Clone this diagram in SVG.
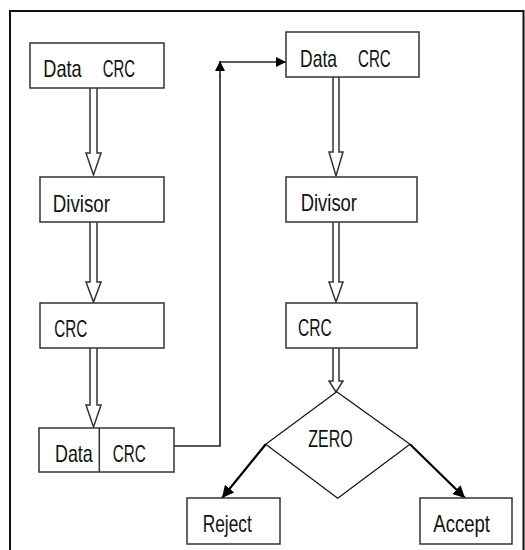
<svg xmlns="http://www.w3.org/2000/svg" width="525" height="550" viewBox="0 0 525 550">
  <style>
    .frame { fill: none; stroke: #111; stroke-width: 2; }
    .box { fill: #fff; stroke: #333; stroke-width: 1.5; }
    .div { fill: none; stroke: #333; stroke-width: 1.5; }
    .diamond { fill: #fff; stroke: #111; stroke-width: 1.2; }
    .label { font-family: "Liberation Sans", Arial, sans-serif; font-size: 24px; fill: #111; }
    .hollow { fill: #fff; stroke: #333; stroke-width: 1.5; stroke-linejoin: miter; }
    .link { fill: none; stroke: #222; stroke-width: 1.6; }
    .branch { fill: none; stroke: #000; stroke-width: 2.2; }
  </style>
  <defs>
    <marker id="tri" viewBox="0 0 10 10" refX="10" refY="5" markerWidth="10" markerHeight="10" markerUnits="userSpaceOnUse" orient="auto">
      <path d="M0,0 L10,5 L0,10 z" fill="#000"/>
    </marker>
    <marker id="triB" viewBox="0 0 10 10" refX="10" refY="5" markerWidth="12" markerHeight="12" markerUnits="userSpaceOnUse" orient="auto">
      <path d="M0,0 L10,5 L0,10 z" fill="#000"/>
    </marker>
  </defs>

  <!-- page frame -->
  <path class="frame" d="M10,550 V11 H523.5 V550"/>

  <!-- connectors -->
  <g id="connectors">
    <!-- hollow flow arrows, left column -->
    <path class="hollow" d="M90,88 V153 H86 L93.5,175 L101,153 H97 V88"/>
    <path class="hollow" d="M90,222 V282 H86 L93.5,302 L101,282 H97 V222"/>
    <path class="hollow" d="M90,348 V405 H86 L93.5,427 L101,405 H97 V348"/>
    <!-- hollow flow arrows, right column -->
    <path class="hollow" d="M333,77 V152 H329 L336,176 L343,152 H339 V77"/>
    <path class="hollow" d="M333,222 V282 H329 L336,302 L343,282 H339 V222"/>
    <path class="hollow" d="M333,348 V381 H329 L336,392 L343,381 H339 V348"/>
    <!-- transmission link -->
    <path class="link" d="M174,446 H220 V75"/>
    <path class="link" d="M220,76 V61" marker-end="url(#tri)"/>
    <path class="link" d="M220,62 H286" marker-end="url(#tri)"/>
    <!-- decision branches -->
    <path class="branch" d="M265.7,444.3 L222,498" marker-end="url(#triB)"/>
    <path class="branch" d="M410,444.3 L465,498" marker-end="url(#triB)"/>
  </g>

  <!-- sender side -->
  <g id="tx-frame">
    <rect class="box" x="30" y="43" width="134" height="45"/>
    <text class="label" x="43.3" y="77.3" textLength="38.4" lengthAdjust="spacingAndGlyphs">Data</text>
    <text class="label" x="102.7" y="77.3" textLength="32.3" lengthAdjust="spacingAndGlyphs">CRC</text>
  </g>
  <g id="tx-divisor">
    <rect class="box" x="40" y="177" width="124" height="45"/>
    <text class="label" x="52.7" y="211.7" textLength="57.3" lengthAdjust="spacingAndGlyphs">Divisor</text>
  </g>
  <g id="tx-crc">
    <rect class="box" x="40" y="303" width="124" height="45"/>
    <text class="label" x="54.3" y="337.3" textLength="33" lengthAdjust="spacingAndGlyphs">CRC</text>
  </g>
  <g id="tx-packet">
    <rect class="box" x="39" y="428" width="135" height="44"/>
    <line class="div" x1="99.3" y1="428" x2="99.3" y2="472"/>
    <text class="label" x="55" y="461.7" textLength="37.7" lengthAdjust="spacingAndGlyphs">Data</text>
    <text class="label" x="112.7" y="461.7" textLength="33" lengthAdjust="spacingAndGlyphs">CRC</text>
  </g>

  <!-- receiver side -->
  <g id="rx-frame">
    <rect class="box" x="286" y="32" width="133" height="45"/>
    <text class="label" x="300" y="66.7" textLength="37" lengthAdjust="spacingAndGlyphs">Data</text>
    <text class="label" x="358" y="66.7" textLength="32.7" lengthAdjust="spacingAndGlyphs">CRC</text>
  </g>
  <g id="rx-divisor">
    <rect class="box" x="286" y="177" width="131" height="45"/>
    <text class="label" x="300.7" y="210.7" textLength="56.3" lengthAdjust="spacingAndGlyphs">Divisor</text>
  </g>
  <g id="rx-crc">
    <rect class="box" x="286" y="303" width="131" height="45"/>
    <text class="label" x="298" y="336" textLength="33.7" lengthAdjust="spacingAndGlyphs">CRC</text>
  </g>
  <g id="rx-zero">
    <polygon class="diamond" points="336.7,391.7 410,444.3 337.7,498.3 265.7,444.3"/>
    <text class="label" x="308.3" y="446.7" textLength="44.4" lengthAdjust="spacingAndGlyphs">ZERO</text>
  </g>
  <g id="rx-reject">
    <rect class="box" x="187" y="498" width="93" height="46"/>
    <text class="label" x="202.7" y="531.7" textLength="49" lengthAdjust="spacingAndGlyphs">Reject</text>
  </g>
  <g id="rx-accept">
    <rect class="box" x="420" y="498" width="92" height="46"/>
    <text class="label" x="433.3" y="531.7" textLength="56.7" lengthAdjust="spacingAndGlyphs">Accept</text>
  </g>
</svg>
